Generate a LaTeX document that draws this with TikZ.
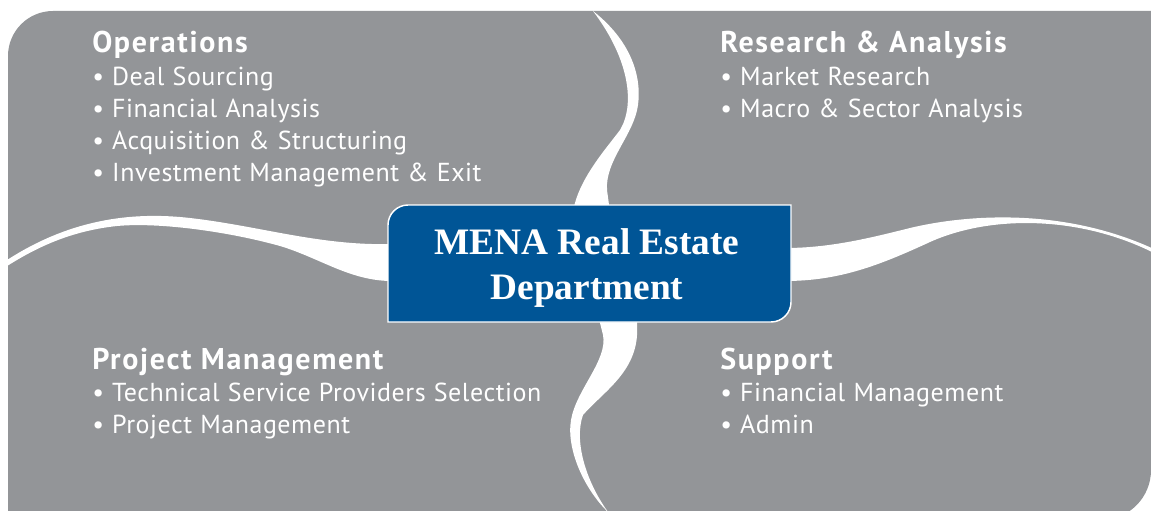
\documentclass[tikz,border=0pt]{standalone}
\usepackage{fontspec}
\setmainfont{PT Sans}
\newfontfamily\headfont[LetterSpace=5.5]{PT Sans}
\newfontfamily\itemfont[LetterSpace=2, WordSpace=1.1]{PT Sans}
\newfontfamily\deptfont{Liberation Serif}
\usetikzlibrary{positioning}
\definecolor{panelgray}{RGB}{147,149,152}
\definecolor{deptblue}{RGB}{0,85,150}
\begin{document}
\begin{tikzpicture}[
                            x=0.75pt, y=-0.75pt,
                            node distance=24pt,
                            head/.style={font=\headfont\bfseries\fontsize{22.5}{24}\selectfont, text=white, inner sep=0pt, anchor=base west},
                            item/.style={font=\itemfont\fontsize{19.5}{24}\selectfont, text=white, inner sep=0pt, anchor=base west},
                            gap/.style={fill=white},
                            deptbox/.style={fill=deptblue, draw=white, line width=1.1pt},
                            dept/.style={font=\deptfont\bfseries\fontsize{28}{34}\selectfont, text=white, align=center}
                        ]
                        \clip (0,0) rectangle (1151,510);
                        % Background
                        \fill[panelgray] (8,520) -- (8,56) arc[start angle=180, end angle=270, radius=45] -- (1151,11) -- (1151,470) arc[start angle=0, end angle=90, radius=50] -- cycle;

                        % Gaps
                        \fill[gap] (593,11) .. controls (630,40) and (642,75) .. (638,105) .. controls (634,135) and (605,160) .. (607,190) -- (610,212) -- (573,212) .. controls (578,180) and (605,150) .. (620,130) .. controls (635,105) and (630,60) .. (593,11) -- cycle;
                        \fill[gap] (598,315) -- (637,315) -- (637,325) .. controls (640,370) and (605,390) .. (583,415) .. controls (574,440) and (585,480) .. (608,512) .. controls (585,490) and (566,450) .. (571,420) .. controls (576,390) and (608,360) .. (603,335) -- cycle;
                        \fill[gap] (4,262) .. controls (60,225) and (120,210) .. (190,218) .. controls (260,226) and (320,246) .. (392,244) -- (392,281) .. controls (350,281) and (320,258) .. (280,246) .. controls (230,232) and (160,222) .. (117,226) .. controls (70,231) and (35,248) .. (4,268) -- cycle;
                        \fill[gap] (785,248) .. controls (830,248) and (870,238) .. (910,228) .. controls (960,216) and (1060,205) .. (1156,250) -- (1156,254) .. controls (1080,215) and (990,215) .. (930,242) .. controls (880,265) and (840,281) .. (785,281) -- cycle;

                        % Centre box
                        \filldraw[deptbox] (388,322) -- (388,225) arc[start angle=180, end angle=270, radius=20] -- (791,205) -- (791,302) arc[start angle=0, end angle=90, radius=20] -- cycle;
                        \node[dept] (dept) at (587,268) {MENA Real Estate\\Department};

                        % Sections
                        \node[head] (opsHead) at (92,53) {Operations};
                        \node[below=of opsHead.base west, item] (dealSrc) {\textbullet\ Deal Sourcing};
                        \node[below=of dealSrc.base west, item] (finAnalysis) {\textbullet\ Financial Analysis};
                        \node[below=of finAnalysis.base west, item] (acqStruct) {\textbullet\ Acquisition \& Structuring};
                        \node[below=of acqStruct.base west, item] (invExit) {\textbullet\ Investment Management \& Exit};

                        \node[head] (resHead) at (720,53) {Research \& Analysis};
                        \node[below=of resHead.base west, item] (mktRes) {\textbullet\ Market Research};
                        \node[below=of mktRes.base west, item] (macroSector) {\textbullet\ Macro \& Sector Analysis};

                        \node[head] (projHead) at (92,369) {Project Management};
                        \node[below=of projHead.base west, item] (techSel) {\textbullet\ Technical Service Providers Selection};
                        \node[below=of techSel.base west, item] (projMgmt) {\textbullet\ Project Management};

                        \node[head] (suppHead) at (720,369) {Support};
                        \node[below=of suppHead.base west, item] (finMgmt) {\textbullet\ Financial Management};
                        \node[below=of finMgmt.base west, item] (admin) {\textbullet\ Admin};
                    \end{tikzpicture}
\end{document}
